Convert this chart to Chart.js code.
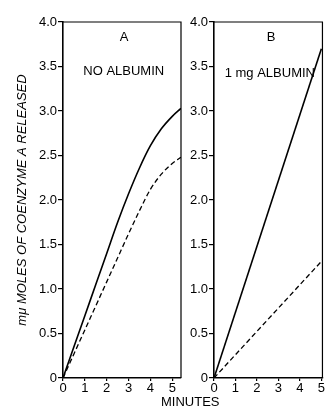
<!DOCTYPE html>
<html>
<head>
<meta charset="utf-8">
<script src="https://cdn.jsdelivr.net/npm/chart.js@4/dist/chart.umd.min.js"></script>
<style>
  html, body { margin: 0; padding: 0; background: #fff; }
  body { width: 325px; height: 412px; position: relative; overflow: hidden; }
  .wrap { position: absolute; top: 0; height: 412px; }
  #wa { left: 0; width: 186px; }
  #wb { left: 186px; width: 139px; }
  #minutes { position: absolute; left: 161px; top: 395px; font: 13px "Liberation Sans", Arial, sans-serif; line-height: 14px; color: #000; }
</style>
</head>
<body>
<div class="wrap" id="wa"><canvas id="ca"></canvas></div>
<div class="wrap" id="wb"><canvas id="cb"></canvas></div>
<div id="minutes">MINUTES</div>
<script>
// ---- data ----
const minutesA = [0, 0.5, 1, 1.5, 2, 2.5, 3, 3.5, 4, 4.5, 5, 5.4];
const noAlbuminSolid = [0, 0.35, 0.70, 1.05, 1.40, 1.75, 2.07, 2.36, 2.61, 2.80, 2.94, 3.03];
const noAlbuminDashed = [0, 0.27, 0.54, 0.81, 1.08, 1.35, 1.62, 1.88, 2.12, 2.29, 2.41, 2.48];
const minutesB = [0, 5];
const albuminSolid = [0, 3.70];
const albuminDashed = [0, 1.31];
const xTicks = [0, 1, 2, 3, 4, 5];
const yTicks = [0, 0.5, 1.0, 1.5, 2.0, 2.5, 3.0, 3.5, 4.0];
const yTitle = 'm\u03BC MOLES OF COENZYME A RELEASED';
const panelTextA = [{ text: 'A', x: 2.8, y: 3.83 }, { text: 'NO ALBUMIN', x: 2.78, y: 3.44 }];
const panelTextB = [{ text: 'B', x: 2.66, y: 3.83 }, { text: '1 mg ALBUMIN', x: 2.6, y: 3.42 }];

const FONT = '"Liberation Sans", Arial, sans-serif';
Chart.defaults.font.family = FONT;
Chart.defaults.color = '#000';

const pts = (xs, ys) => xs.map((x, i) => ({ x, y: ys[i] }));

const framePlugin = {
  id: 'frame',
  afterDatasetsDraw(chart) {
    const { ctx, chartArea: a } = chart;
    ctx.save();
    ctx.strokeStyle = '#000';
    ctx.lineWidth = 1.2;
    ctx.beginPath();
    ctx.moveTo(a.left, a.top);
    ctx.lineTo(a.right, a.top);
    ctx.lineTo(a.right, a.bottom);
    ctx.stroke();
    ctx.restore();
  }
};
const textPlugin = {
  id: 'panelText',
  afterDatasetsDraw(chart, args, opts) {
    const { ctx, scales } = chart;
    ctx.save();
    ctx.fillStyle = '#000';
    ctx.font = '13px ' + FONT;
    ctx.textAlign = 'center';
    ctx.textBaseline = 'middle';
    (opts.items || []).forEach(it => {
      ctx.fillText(it.text, scales.x.getPixelForValue(it.x), scales.y.getPixelForValue(it.y));
    });
    ctx.restore();
  }
};

function makeChart(id, xs, solid, dashed, xmax, yWidth, padRight, items, showTitle) {
  return new Chart(document.getElementById(id), {
    type: 'line',
    data: {
      datasets: [
        { data: pts(xs, solid), borderColor: '#000', borderWidth: 1.6, pointRadius: 0, cubicInterpolationMode: 'monotone', fill: false },
        { data: pts(xs, dashed), borderColor: '#000', borderWidth: 1.3, borderDash: [5, 3], pointRadius: 0, cubicInterpolationMode: 'monotone', fill: false }
      ]
    },
    options: {
      responsive: true,
      maintainAspectRatio: false,
      animation: false,
      devicePixelRatio: 1,
      layout: { padding: { top: 22, right: padRight, bottom: 0, left: 0 } },
      plugins: { legend: { display: false }, tooltip: { enabled: false }, panelText: { items } },
      scales: {
        x: {
          type: 'linear', min: 0, max: xmax,
          afterBuildTicks: s => { s.ticks = xTicks.filter(v => v <= xmax).map(v => ({ value: v })); },
          afterFit: s => { s.height = 34; },
          grid: { drawOnChartArea: false, drawTicks: true, tickLength: 3, color: '#000', lineWidth: 1.2 },
          border: { color: '#000', width: 1.6 },
          ticks: { padding: 0, maxRotation: 0, autoSkip: false, font: { size: 13 }, color: '#000' }
        },
        y: {
          type: 'linear', min: 0, max: 4,
          afterBuildTicks: s => { s.ticks = yTicks.map(v => ({ value: v })); },
          afterFit: s => { s.width = yWidth; },
          grid: { drawOnChartArea: false, drawTicks: true, tickLength: 5, color: '#000', lineWidth: 1.2 },
          border: { color: '#000', width: 1.6 },
          ticks: { padding: 1, autoSkip: false, font: { size: 13 }, color: '#000',
                   callback: v => v === 0 ? '0' : v.toFixed(1) },
          title: { display: showTitle, text: yTitle, color: '#000', padding: { top: 15, bottom: 0 },
                   font: { size: 13, style: 'italic' } }
        }
      }
    },
    plugins: [framePlugin, textPlugin]
  });
}

makeChart('ca', minutesA, noAlbuminSolid, noAlbuminDashed, 5.4, 63, 5, panelTextA, true);
makeChart('cb', minutesB, albuminSolid, albuminDashed, 5.05, 28, 1, panelTextB, false);
</script>
</body>
</html>
